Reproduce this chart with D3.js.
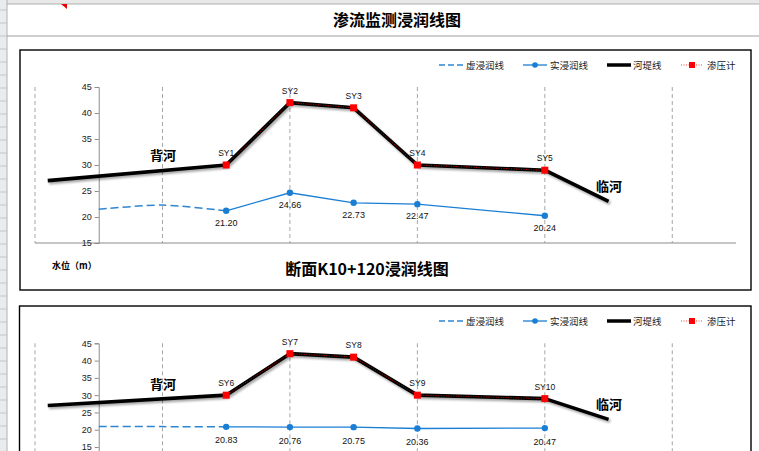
<!DOCTYPE html>
<html><head><meta charset="utf-8">
<script src="https://cdn.jsdelivr.net/npm/d3@7"></script>
<style>body{margin:0;background:#fff}svg{display:block}</style>
</head><body>
<script>
// ---- data ----
const gridX = [0, 1, 2, 3, 4, 5];
const yTicks1 = [15, 20, 25, 30, 35, 40, 45];
const yTicks2 = [15, 20, 25, 30, 35, 40, 45];
const damX = [0.1, 1.5, 2, 2.5, 3, 4, 4.5];
const dam1 = [27, 30, 42, 41, 30, 29, 23];
const dam2 = [27, 30, 42, 41, 30, 29, 23];
const gaugeX = [1.5, 2, 2.5, 3, 4];
const gaugeNames1 = ["SY1", "SY2", "SY3", "SY4", "SY5"];
const gaugeNames2 = ["SY6", "SY7", "SY8", "SY9", "SY10"];
const virtX = [0.5, 1, 1.5];
const virt1 = [21.5, 22.3, 21.2];
const virt2 = [20.95, 20.9, 20.83];
const seep1 = [21.20, 24.66, 22.73, 22.47, 20.24];
const seep2 = [20.83, 20.76, 20.75, 20.36, 20.47];
const legendNames = ["虚浸润线", "实浸润线", "河堤线", "渗压计"];
const sheetTitle = "渗流监测浸润线图";
const chartTitle1 = "断面K10+120浸润线图";

const W = 759, H = 451;
const svg = d3.select("body").append("svg").attr("width", W).attr("height", H);
const defs = svg.append("defs");
const f = defs.append("filter").attr("id", "sh").attr("x", "-10%").attr("y", "-20%").attr("width", "130%").attr("height", "160%");
f.append("feDropShadow").attr("dx", 1.5).attr("dy", 2).attr("stdDeviation", 1.2).attr("flood-color", "#000").attr("flood-opacity", 0.35);

// ---- spreadsheet background ----
svg.append("rect").attr("x", 0).attr("y", 0).attr("width", W).attr("height", 4).attr("fill", "#e8e8e8");
svg.append("line").attr("x1", 0).attr("x2", W).attr("y1", 4).attr("y2", 4).attr("stroke", "#b0b0b0");
svg.append("rect").attr("x", 0).attr("y", 0).attr("width", 7).attr("height", H).attr("fill", "#e8ecef");
svg.append("line").attr("x1", 7).attr("x2", 7).attr("y1", 0).attr("y2", H).attr("stroke", "#b0b0b0");
d3.range(0, 36).forEach(i => {
  svg.append("line").attr("x1", 0).attr("x2", 7).attr("y1", 10 + i * 13).attr("y2", 10 + i * 13).attr("stroke", "#c4c4c4");
});
svg.append("path").attr("d", "M61,4 L67,4 L67,9 Z").attr("fill", "#e00");
svg.append("line").attr("x1", 7).attr("x2", W).attr("y1", 36).attr("y2", 36).attr("stroke", "#a0a0a0").attr("stroke-width", 1.2);
svg.append("text").attr("x", 397).attr("y", 26).attr("text-anchor", "middle")
  .attr("font-family", "Noto Sans CJK SC").attr("font-weight", "bold").attr("font-size", 16).attr("fill", "#000").text(sheetTitle);

function drawChart(o) {
  const g = svg.append("g");
  g.append("rect").attr("x", o.box[0]).attr("y", o.box[1]).attr("width", o.box[2]).attr("height", o.box[3])
    .attr("fill", "#fff").attr("stroke", "#000").attr("stroke-width", 1.4);
  const x = d3.scaleLinear().domain([0, 5.5]).range([35, 736]);
  const y = d3.scaleLinear().domain(o.yd).range(o.yr);
  const ymin = o.yd[0], ymax = o.yd[1];
  // gridlines
  g.selectAll(".gx").data(gridX).enter().append("line")
    .attr("x1", d => x(d)).attr("x2", d => x(d)).attr("y1", y(ymax)).attr("y2", y(ymin))
    .attr("stroke", "#a6a6a6").attr("stroke-dasharray", "4,3").attr("stroke-width", 1);
  // x axis baseline
  g.append("line").attr("x1", x(0)).attr("x2", x(5.5)).attr("y1", y(ymin)).attr("y2", y(ymin)).attr("stroke", "#8c8c8c").attr("stroke-width", 1.2);
  // y axis
  const ya = d3.axisLeft(y).tickValues(o.ticks).tickSize(4).tickPadding(3);
  const yg = g.append("g").attr("transform", `translate(${x(0.5)},0)`).call(ya);
  yg.select(".domain").attr("stroke", "#8c8c8c");
  yg.selectAll(".tick line").attr("stroke", "#8c8c8c");
  yg.selectAll("text").attr("font-family", "Liberation Sans, Arial").attr("font-size", 9).attr("fill", "#222");
  // dam line
  const line = d3.line().x(d => x(d[0])).y(d => y(d[1]));
  g.append("path").datum(damX.map((d, i) => [d, o.dam[i]])).attr("d", line)
    .attr("fill", "none").attr("stroke", "#000").attr("stroke-width", 3.6).attr("stroke-linejoin", "round").attr("filter", "url(#sh)");
  // gauge (red dotted) over dam
  const gData = gaugeX.map((d, i) => [d, o.dam[damX.indexOf(d)]]);
  g.append("path").datum(gData).attr("d", line).attr("fill", "none").attr("stroke", "#c00000").attr("stroke-width", 1).attr("stroke-dasharray", "1,1.5");
  g.selectAll(".gm").data(gData).enter().append("rect")
    .attr("x", d => x(d[0]) - 3.5).attr("y", d => y(d[1]) - 3.5).attr("width", 7).attr("height", 7).attr("fill", "#ff0000");
  g.selectAll(".gl").data(gData).enter().append("text")
    .attr("x", d => x(d[0])).attr("y", d => y(d[1]) - 9).attr("text-anchor", "middle")
    .attr("font-family", "Liberation Sans, Arial").attr("font-size", 8.5).attr("fill", "#111").text((d, i) => o.names[i]);
  // virtual seepage line
  const vline = d3.line().x(d => x(d[0])).y(d => y(d[1])).curve(d3.curveCardinal.tension(0.3));
  g.append("path").datum(virtX.map((d, i) => [d, o.virt[i]])).attr("d", vline)
    .attr("fill", "none").attr("stroke", "#2e86d0").attr("stroke-width", 1.5).attr("stroke-dasharray", "8,4");
  // actual seepage line
  const sData = gaugeX.map((d, i) => [d, o.seep[i]]);
  g.append("path").datum(sData).attr("d", line).attr("fill", "none").attr("stroke", "#1a7fd4").attr("stroke-width", 1.3);
  g.selectAll(".sm").data(sData).enter().append("circle").attr("cx", d => x(d[0])).attr("cy", d => y(d[1])).attr("r", 3.2).attr("fill", "#1a7fd4");
  g.selectAll(".sl").data(sData).enter().append("text")
    .attr("x", d => x(d[0])).attr("y", d => y(d[1]) + o.vOff).attr("text-anchor", "middle")
    .attr("font-family", "Liberation Sans, Arial").attr("font-size", 9).attr("fill", "#111").text(d => d[1].toFixed(2));
  // side labels
  g.append("text").attr("x", 163).attr("y", o.bhY).attr("text-anchor", "middle")
    .attr("font-family", "Noto Sans CJK SC").attr("font-weight", "bold").attr("font-size", 13).attr("fill", "#000").text("背河");
  g.append("text").attr("x", 609).attr("y", o.lhY).attr("text-anchor", "middle")
    .attr("font-family", "Noto Sans CJK SC").attr("font-weight", "bold").attr("font-size", 13).attr("fill", "#000").text("临河");
  // legend
  const ly = o.legY;
  const lf = { "font-family": "Noto Sans CJK SC", "font-size": 9.5, "fill": "#222" };
  const lg = g.append("g");
  lg.append("line").attr("x1", 439).attr("x2", 463).attr("y1", ly).attr("y2", ly).attr("stroke", "#2e86d0").attr("stroke-width", 1.3).attr("stroke-dasharray", "6,3");
  lg.append("line").attr("x1", 523).attr("x2", 547).attr("y1", ly).attr("y2", ly).attr("stroke", "#1a7fd4").attr("stroke-width", 1.3);
  lg.append("circle").attr("cx", 535).attr("cy", ly).attr("r", 2.8).attr("fill", "#1a7fd4");
  lg.append("line").attr("x1", 607).attr("x2", 631).attr("y1", ly).attr("y2", ly).attr("stroke", "#000").attr("stroke-width", 3.5);
  lg.append("line").attr("x1", 681).attr("x2", 703).attr("y1", ly).attr("y2", ly).attr("stroke", "#ff4040").attr("stroke-width", 1).attr("stroke-dasharray", "1,1.5");
  lg.append("rect").attr("x", 689).attr("y", ly - 3).attr("width", 6).attr("height", 6).attr("fill", "#ff0000");
  [466, 550, 633, 707].forEach((lx, i) => {
    const t = lg.append("text").attr("x", lx).attr("y", ly + 3.5).text(legendNames[i]);
    Object.entries(lf).forEach(([k, v]) => t.attr(k, v));
  });
  if (o.title) {
    g.append("text").attr("x", 367).attr("y", 275).attr("text-anchor", "middle")
      .attr("font-family", "Noto Sans CJK SC").attr("font-weight", "bold").attr("font-size", 16).attr("fill", "#000").text(o.title);
    g.append("text").attr("x", 52).attr("y", 269)
      .attr("font-family", "Noto Sans CJK SC").attr("font-weight", "bold").attr("font-size", 9).attr("fill", "#000").text("水位（m）");
  }
}

drawChart({ box: [20, 50, 731, 240], yd: [15, 45], yr: [243, 87], ticks: yTicks1, dam: dam1, names: gaugeNames1, virt: virt1, seep: seep1,
  vOff: 15, bhY: 160, lhY: 191, legY: 65, title: chartTitle1 });
drawChart({ box: [19.5, 306, 731.5, 170], yd: [10, 45], yr: [464.3, 343.3], ticks: yTicks2, dam: dam2, names: gaugeNames2, virt: virt2, seep: seep2,
  vOff: 16.5, bhY: 389, lhY: 409, legY: 321, title: null });
</script>
</body></html>
